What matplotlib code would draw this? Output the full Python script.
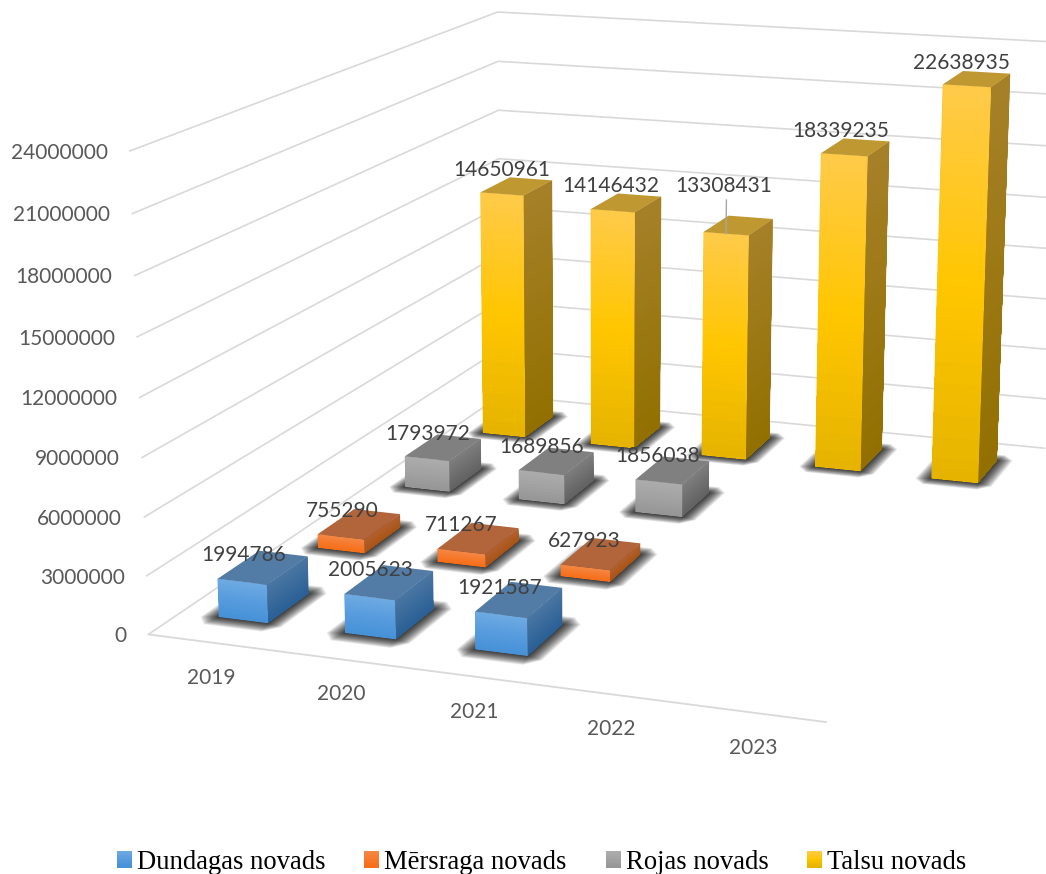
import numpy as np
import matplotlib
matplotlib.use("Agg")
import matplotlib.pyplot as plt
from matplotlib.legend_handler import HandlerBase
from matplotlib.patches import Rectangle, Patch
from mpl_toolkits.mplot3d.art3d import Poly3DCollection

YEARS = ["2019", "2020", "2021", "2022", "2023"]
SERIES = ["Dundagas novads", "Mērsraga novads", "Rojas novads", "Talsu novads"]
DUNDAGAS = [1994786, 2005623, 1921587, None, None]
MERSRAGS = [755290, 711267, 627923, None, None]
ROJA = [1793972, 1689856, 1856038, None, None]
TALSI = [14650961, 14146432, 13308431, 18339235, 22638935]
TICKS = [0, 3000000, 6000000, 9000000, 12000000, 15000000, 18000000, 21000000, 24000000]

W, H = 1046, 874
# Perspective camera: (category, series, value / 3e6) -> screen pixels
CAMERA = np.array([[1.23317736e+02, 1.22634380e+02, -3.07965878e+00, 1.48368428e+02],
                   [6.85680178e+00, -3.25624408e+01, -6.11668252e+01, 6.34414285e+02],
                   [-1.47882027e-02, 6.87892544e-02, -5.11573391e-03, 1.00000000e+00]])
CAMERA[:, 2] /= 3e6
GAP_X, GAP_Y = 0.3032, 0.2980

# colours: front (top, mid, bottom), side (top, bottom), roof
STYLE = [
    dict(front=[(110, 170, 226), (88, 156, 222), (70, 145, 215)], side=[(74, 118, 162), (42, 96, 150)], roof=(82, 124, 166)),
    dict(front=[(244, 136, 70), (246, 122, 45), (246, 110, 25)], side=[(178, 96, 48), (170, 84, 22)], roof=(178, 101, 58)),
    dict(front=[(172, 172, 172), (162, 162, 162), (150, 150, 150)], side=[(126, 126, 126), (98, 98, 98)], roof=(128, 128, 128)),
    dict(front=[(255, 202, 72), (255, 198, 0), (230, 180, 0)], side=[(166, 128, 40), (146, 112, 0)], roof=(192, 152, 50)),
]
LABEL_OFF = [(-19, -12), (-17, -13), (-15, -14), (-15, -16.5)]
LEADER_LABEL_DY = -39

fig = plt.figure(figsize=(W / 100, H / 100), dpi=100, facecolor="white")
ax = fig.add_axes([0, 0, 1, 1], projection="3d")
ax.set_axis_off()
ax.computed_zorder = False
ax.set_xlim(0, 5)
ax.set_ylim(0, 4)
ax.set_zlim(0, 24e6)
ax.apply_aspect = lambda position=None: None


def fitted_proj():
    vx0, vx1 = ax.viewLim.intervalx
    vy0, vy1 = ax.viewLim.intervaly
    to_view = np.array([[(vx1 - vx0) / W, 0, vx0], [0, -(vy1 - vy0) / H, vy1], [0, 0, 1]])
    m = to_view @ CAMERA
    return np.vstack([m[0], m[1], [0, 1, 0, -100], m[2]])


ax.get_proj = fitted_proj


def screen(x, y, z):
    h = CAMERA @ np.array([x, y, z, 1.0])
    return h[0] / h[2], h[1] / h[2]


def label(px, py, s, **kw):
    ax.text2D(px / W, 1 - py / H, s, transform=fig.transFigure, zorder=2000, family="Lato", fontsize=15, **kw)


def ramp(stops, n):
    t = np.linspace(0, 1, n)
    g = np.linspace(0, 1, len(stops))
    arr = np.array(stops, float) / 255
    return np.column_stack([np.interp(t, g, arr[:, k]) for k in range(3)])


def add_face(poly, colour, z):
    # a second, empty polygon keeps matplotlib from pixel-snapping a lone path
    c = Poly3DCollection([poly, [poly[0]] * 3], facecolors=[colour, colour], edgecolors="none", linewidths=0, zorder=z)
    c.set_snap(False)
    ax.add_collection3d(c)


GRID = "#d9d9d9"
for v in TICKS:
    ax.plot([0, 0, 5], [0, 4, 4], [v, v, v], color=GRID, lw=1.2, zorder=1, solid_capstyle="butt")
ax.plot([0, 5], [0, 0], [0, 0], color=GRID, lw=1.3, zorder=1)

for v in TICKS:
    px, py = screen(0, 0, v)
    label(px - 21.5, py + 1.5, str(v), ha="right", va="center", color="#595959")
for i, yr in enumerate(YEARS):
    px, py = screen(i + 0.5, 0, 0)
    label(px, py + 35, yr, ha="center", va="center", color="#595959")


def shadow(x0, x1, y0, y1, z):
    n = 22
    for k in range(n):
        e = (1 - k / (n - 1)) ** 1.3
        ex, ey = 0.125 * e, 0.105 * e
        cx, cy = 0.75 * ex, 0.75 * ey
        poly = [(x0 - ex + cx, y0 - ey), (x1 + ex - cx, y0 - ey), (x1 + ex, y0 - ey + cy), (x1 + ex, y1 + ey - cy),
                (x1 + ex - cx, y1 + ey), (x0 - ex + cx, y1 + ey), (x0 - ex, y1 + ey - cy), (x0 - ex, y0 - ey + cy)]
        add_face([(a, b, 0) for a, b in poly], (0.1, 0.1, 0.1, 0.08), z)


def gradient_face(corner, stops, z):
    """A clean one-colour face, then gradient bands just inside its outline."""
    n = 36
    cols = ramp(stops, n)
    top = corner["v"]
    tops = np.linspace(top, 0, n + 1)[:-1]
    a, b = np.array(corner["a"], float), np.array(corner["b"], float)
    add_face([(a[0], a[1], top), (b[0], b[1], top), (b[0], b[1], 0), (a[0], a[1], 0)], cols.mean(axis=0), z - 0.5)
    ia, ib = a + (b - a) * 0.014, b - (b - a) * 0.014
    foot = 35000
    for k in range(n):
        if tops[k] <= foot:
            continue
        add_face([(ia[0], ia[1], tops[k]), (ib[0], ib[1], tops[k]), (ib[0], ib[1], foot), (ia[0], ia[1], foot)],
                 cols[k], z + k * 0.01)


def bar(i, s, v, style, z):
    x0, x1 = i + GAP_X, i + 1 - GAP_X
    y0, y1 = s + GAP_Y, s + 1 - GAP_Y
    gradient_face(dict(v=v, a=(x1, y0), b=(x1, y1)), style["side"], z)
    gradient_face(dict(v=v, a=(x0, y0), b=(x1, y0)), style["front"], z + 2)
    add_face([(x0, y0, v), (x1, y0, v), (x1, y1, v), (x0, y1, v)], np.array(style["roof"]) / 255, z + 3)


all_series = [DUNDAGAS, MERSRAGS, ROJA, TALSI]
for s in range(3, -1, -1):
    values = all_series[s]
    for i, v in enumerate(values):
        if v is None:
            continue
        base = 10 + (3 - s) * 20 + i * 4
        shadow(i + GAP_X, i + 1 - GAP_X, s + GAP_Y, s + 1 - GAP_Y, 5)
        bar(i, s, v, STYLE[s], base)
        px, py = screen(i + 0.5, s + 0.5, v)
        dx, dy = LABEL_OFF[s]
        if s == 3 and i == 2:
            dy = LEADER_LABEL_DY
            ax.plot([i + 0.5, i + 0.5], [s + GAP_Y, s + GAP_Y], [v, v + 1.96e6], color="#a6a6a6", lw=1.0, zorder=1500)
        label(px + dx, py + dy, str(v), ha="center", va="center", color="#404040")


class GradientHandle(HandlerBase):
    def create_artists(self, legend, orig, xd, yd, width, height, fontsize, trans):
        cols = ramp(orig.stops, 12)
        out = []
        for k in range(12):
            r = Rectangle((-xd, -yd + height * (11 - k) / 12), width, height / 12 + 0.3,
                          facecolor=cols[k], edgecolor="none", transform=trans)
            out.append(r)
        return out


handles = []
for st, name in zip(STYLE, SERIES):
    h = Patch(label=name)
    h.stops = st["front"]
    handles.append(h)
fig.legend(handles=handles, loc="lower left", bbox_to_anchor=(117 / W, -0.001), bbox_transform=fig.transFigure,
           ncol=4, frameon=False, borderpad=0, borderaxespad=0, handlelength=0.56, handleheight=0.56,
           handletextpad=0.19, columnspacing=1.46,
           prop={"family": "Liberation Serif", "size": 19.2}, labelcolor="black",
           handler_map={Patch: GradientHandle()})

fig.savefig("out.png", dpi=100, facecolor="white")
